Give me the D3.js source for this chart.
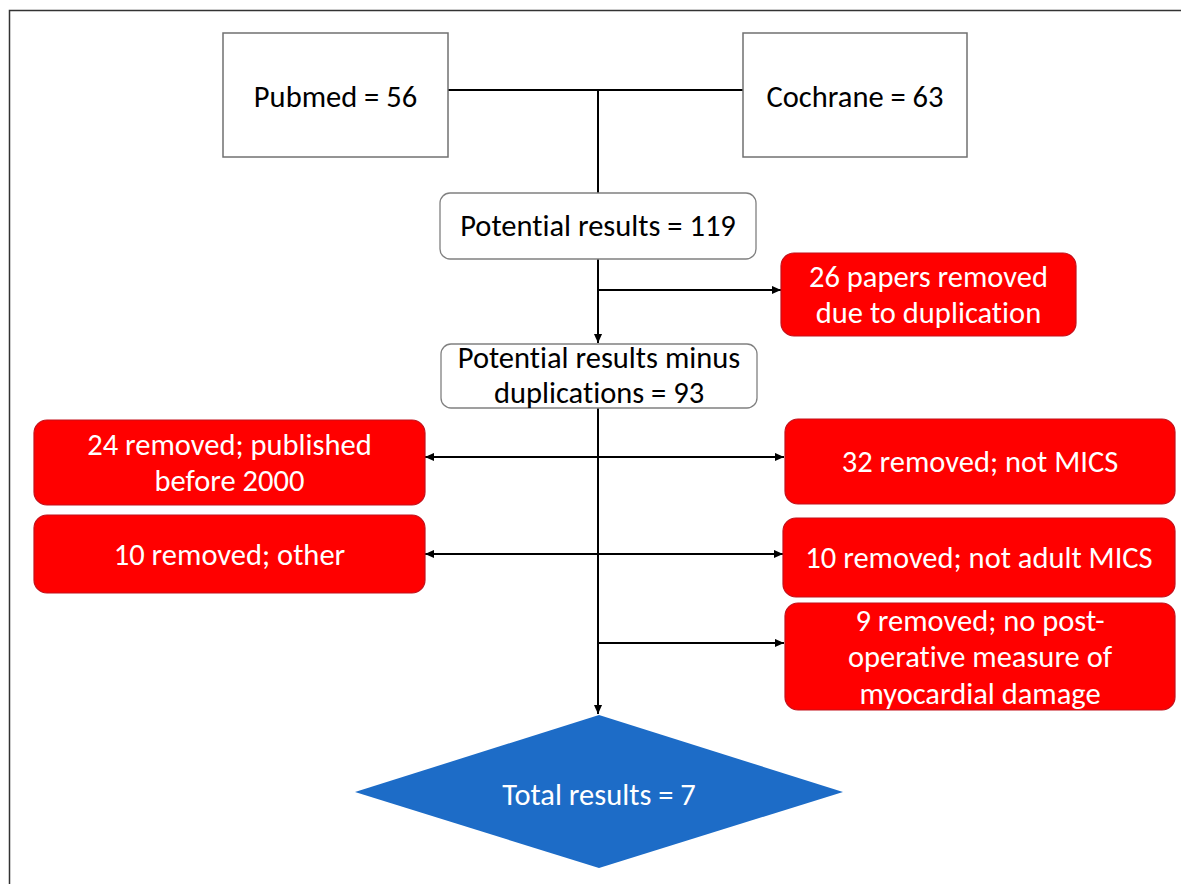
<!DOCTYPE html>
<html>
<head>
<meta charset="utf-8">
<script src="https://cdn.jsdelivr.net/npm/d3@7"></script>
<style>
  body { margin: 0; background: #fff; }
  text { font-family: Carlito, Calibri, Lato, sans-serif; font-variant-ligatures: none; }
</style>
</head>
<body>
<svg id="chart" width="1181" height="884"></svg>
<script>
// flow counts
const sourceNames = ["Pubmed", "Cochrane"];
const sourceCounts = [56, 63];
const stageLabels = ["Potential results", "Potential results minus\nduplications"];
const stageCounts = [119, 93];
const duplicatesRemoved = 26;
const exclusionCounts = [24, 32, 10, 10, 9];
const exclusionReasons = [
  "published\nbefore 2000",
  "not MICS",
  "other",
  "not adult MICS",
  "no post-\noperative measure of\nmyocardial damage"
];
const totalResults = 7;

const svg = d3.select("#chart");
const fs = 30.5;

svg.append("defs").append("marker")
  .attr("id", "arrow")
  .attr("viewBox", "0 -5 10 10")
  .attr("refX", 10)
  .attr("refY", 0)
  .attr("markerUnits", "userSpaceOnUse")
  .attr("markerWidth", 9)
  .attr("markerHeight", 9)
  .attr("orient", "auto")
  .append("path")
  .attr("d", "M0,-4.5L10,0L0,4.5Z")
  .attr("fill", "#000");

// outer frame (runs off the right and bottom)
svg.append("rect")
  .attr("x", 9.5).attr("y", 10.5)
  .attr("width", 1250).attr("height", 950)
  .attr("fill", "none").attr("stroke", "#333").attr("stroke-width", 1.5);

function label(g, lines, cx, cy, lh, color) {
  const t = g.append("text")
    .attr("text-anchor", "middle")
    .attr("font-size", fs)
    .attr("fill", color);
  const n = lines.length;
  lines.forEach(function (l, i) {
    t.append("tspan")
      .attr("x", cx)
      .attr("y", cy + (i - (n - 1) / 2) * lh)
      .attr("dominant-baseline", "central")
      .text(l);
  });
}

// connectors drawn first so boxes sit on top
const cx = 598;
const links = [
  { x1: 448, y1: 90, x2: 743, y2: 90, arrow: false },
  { x1: cx, y1: 90, x2: cx, y2: 193, arrow: false },
  { x1: cx, y1: 259, x2: cx, y2: 343, arrow: true },
  { x1: cx, y1: 290, x2: 781, y2: 290, arrow: true },
  { x1: cx, y1: 408, x2: cx, y2: 714, arrow: true },
  { x1: cx, y1: 457, x2: 425, y2: 457, arrow: true },
  { x1: cx, y1: 457, x2: 784, y2: 457, arrow: true },
  { x1: cx, y1: 554, x2: 425, y2: 554, arrow: true },
  { x1: cx, y1: 554, x2: 783, y2: 554, arrow: true },
  { x1: cx, y1: 643, x2: 784, y2: 643, arrow: true }
];
svg.append("g").selectAll("line")
  .data(links)
  .join("line")
  .attr("x1", d => d.x1).attr("y1", d => d.y1)
  .attr("x2", d => d.x2).attr("y2", d => d.y2)
  .attr("stroke", "#000")
  .attr("stroke-width", 2)
  .attr("marker-end", d => d.arrow ? "url(#arrow)" : null);

// source boxes
const srcBoxes = [
  { x: 223, y: 33, w: 225, h: 124 },
  { x: 743, y: 33, w: 224, h: 124 }
];
const srcG = svg.append("g");
srcBoxes.forEach(function (b, i) {
  srcG.append("rect")
    .attr("x", b.x).attr("y", b.y).attr("width", b.w).attr("height", b.h)
    .attr("fill", "#fff").attr("stroke", "#707070").attr("stroke-width", 1.5);
  label(srcG, [sourceNames[i] + " = " + sourceCounts[i]], b.x + b.w / 2, 96, 0, "#000");
});

// stage boxes (rounded, white)
const stageBoxes = [
  { x: 440, y: 193, w: 316, h: 66, ty: 225 },
  { x: 441, y: 344, w: 316, h: 64, ty: 374.5 }
];
const stG = svg.append("g");
stageBoxes.forEach(function (b, i) {
  stG.append("rect")
    .attr("x", b.x).attr("y", b.y).attr("width", b.w).attr("height", b.h)
    .attr("rx", 10)
    .attr("fill", "#fff").attr("stroke", "#808080").attr("stroke-width", 1.3);
  const lines = (stageLabels[i] + " = " + stageCounts[i]).split("\n");
  label(stG, lines, b.x + b.w / 2, b.ty, 35, "#000");
});

// red removal boxes
const redBoxes = [
  { x: 781, y: 253, w: 295, h: 83, text: duplicatesRemoved + " papers removed\ndue to duplication" },
  { x: 34, y: 420, w: 391, h: 85 },
  { x: 785, y: 419, w: 390, h: 85 },
  { x: 34, y: 515, w: 391, h: 78 },
  { x: 783, y: 518, w: 392, h: 79 },
  { x: 785, y: 603, w: 390, h: 107 }
];
exclusionCounts.forEach(function (n, i) {
  redBoxes[i + 1].text = n + " removed; " + exclusionReasons[i];
});
const rdG = svg.append("g");
redBoxes.forEach(function (b) {
  rdG.append("rect")
    .attr("x", b.x).attr("y", b.y).attr("width", b.w).attr("height", b.h)
    .attr("rx", 13)
    .attr("fill", "#ff0000").attr("stroke", "#c4111b").attr("stroke-width", 1.2);
  label(rdG, b.text.split("\n"), b.x + b.w / 2, b.y + b.h / 2, 36.5, "#fff");
});

// final diamond
const dia = { cx: 599, top: 715, mid: 792, bottom: 868, left: 355, right: 843 };
svg.append("path")
  .attr("d", d3.line()([
    [dia.cx, dia.top], [dia.right, dia.mid], [dia.cx, dia.bottom], [dia.left, dia.mid]
  ]) + "Z")
  .attr("fill", "#1d6cc7");
label(svg, ["Total results = " + totalResults], dia.cx, 794, 0, "#fff");
</script>
</body>
</html>
